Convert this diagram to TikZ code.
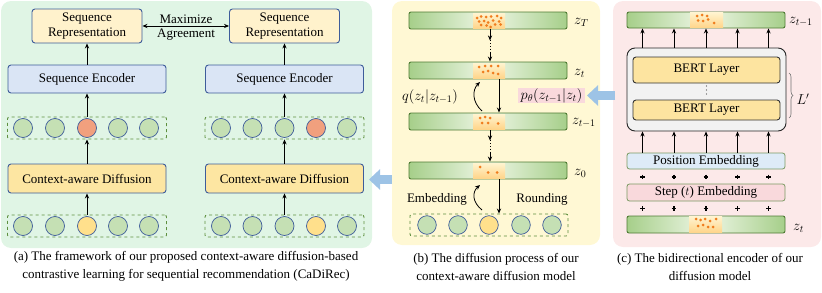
\documentclass[tikz,border=0pt]{standalone}
\usepackage{fontspec}
\setmainfont{Liberation Serif}
\usetikzlibrary{arrows.meta,decorations.pathreplacing,calc}
\definecolor{panA}{HTML}{E0F5E5}
\definecolor{panB}{HTML}{FFF8D4}
\definecolor{panC}{HTML}{FCE9E9}
\definecolor{bord}{HTML}{3E5C9A}
\definecolor{repF}{HTML}{FFF2CC}
\definecolor{encF}{HTML}{DAE5F5}
\definecolor{difF}{HTML}{FDE6A2}
\definecolor{cGreen}{HTML}{C5E0B4}
\definecolor{cOrange}{HTML}{F1A07E}
\definecolor{cYellow}{HTML}{FFE08C}
\definecolor{dashG}{HTML}{5E8F3E}
\definecolor{barB}{HTML}{4F7B34}
\definecolor{barE}{HTML}{A6CF8A}
\definecolor{barM}{HTML}{EEF6E6}
\definecolor{dotO}{HTML}{F07D1E}
\definecolor{midT}{HTML}{FFF4D0}
\definecolor{midB}{HTML}{FFD58A}
\definecolor{bigArr}{HTML}{9DC3E6}
\definecolor{pinkF}{HTML}{F9D9DC}
\definecolor{posF}{HTML}{DEEBF7}
\definecolor{embB}{HTML}{7A9A62}
\definecolor{bertF}{HTML}{FDE4A0}
\definecolor{grayF}{HTML}{F2F2F2}
\newcommand\midsec[4]{\fill[top color=midT,bottom color=midB] (#1,#2) rectangle (#3,#4);}
\newcommand\pluscross[2]{\draw[line width=1.3pt] (#1-2.4,#2) -- (#1+2.4,#2) (#1,#2-2.4) -- (#1,#2+2.4);}
\begin{document}
\begin{tikzpicture}[x=1pt,y=-1pt,
  font=\fontsize{13}{15.5}\selectfont,
  panel/.style={rounded corners=10pt},
  abox/.style={draw=bord, line width=0.9pt, rounded corners=3pt, align=center, inner sep=0pt},
  seqrow/.style={draw=dashG, dashed, line width=0.9pt, rounded corners=2pt, minimum width=159pt, minimum height=22pt, inner sep=0pt},
  item/.style={circle, draw=bord, line width=0.7pt, minimum size=19pt, inner sep=0pt, fill=cGreen},
  arr/.style={-{Stealth[length=5pt,width=4.2pt]}, line width=0.8pt},
  dots/.style={dotted, line width=0.8pt},
  zbar/.style={draw=barB, line width=0.9pt, rounded corners=2pt, left color=barE, right color=barE, middle color=barM, minimum width=158pt, inner sep=0pt},
  embox/.style={draw=embB, line width=0.8pt, rounded corners=2.5pt, minimum width=158pt, inner sep=0pt},
  bert/.style={draw=black!80, line width=0.9pt, rounded corners=3pt, fill=bertF, minimum width=147pt, inner sep=0pt},
  bigarrow/.style={bigArr, line width=9pt, -{Triangle[width=20pt,length=11pt]}},
  mathlab/.style={font=\fontsize{14.5}{15}\selectfont},
  captxt/.style={align=center, font=\fontsize{13}{18}\selectfont}]
\useasboundingbox (0,0) rectangle (822,292);
% panels
\fill[panA, panel] (1,1) rectangle (372,248);
\fill[panB, panel] (392,1) rectangle (600,245);
\fill[panC, panel] (613,1) rectangle (821,247);

% ---------------- panel (a)
\node[abox, fill=repF, minimum width=110pt, minimum height=34pt] (repL) at (87,26) {Sequence\\Representation};
\node[abox, fill=repF, minimum width=110pt, minimum height=34pt] (repR) at (284.5,26) {Sequence\\Representation};
\draw[{Stealth[length=5pt,width=4.2pt]}-{Stealth[length=5pt,width=4.2pt]}, line width=0.8pt] (repL.east) -- (repR.west);
\node[align=center, font=\fontsize{13}{14}\selectfont] (agree) at (186,28) {Maximize\\Agreement};

\node[abox, fill=encF, minimum width=158pt, minimum height=28pt] (encL) at (87,79) {Sequence Encoder};
\node[abox, fill=encF, minimum width=158pt, minimum height=28pt] (encR) at (284.5,79) {Sequence Encoder};

\node[seqrow] (rowL) at (87,128) {};
\node[seqrow] (rowR) at (284.5,128) {};
\foreach \x/\c [count=\i] in {23/cGreen,55/cGreen,87/cOrange,118/cGreen,149/cGreen}
  \node[item, fill=\c] (aL\i) at (\x,128) {};
\foreach \x/\c [count=\i] in {221/cGreen,252.5/cGreen,284.5/cGreen,316/cOrange,347/cGreen}
  \node[item, fill=\c] (aR\i) at (\x,128) {};

\node[abox, fill=difF, minimum width=158pt, minimum height=29pt] (difL) at (87,178.5) {Context-aware Diffusion};
\node[abox, fill=difF, minimum width=158pt, minimum height=29pt] (difR) at (284.5,178.5) {Context-aware Diffusion};

\node[seqrow] (inL) at (87,226) {};
\node[seqrow] (inR) at (284.5,226) {};
\foreach \x/\c [count=\i] in {23/cGreen,55/cGreen,87/cYellow,118/cGreen,149/cGreen}
  \node[item, fill=\c] (bL\i) at (\x,226) {};
\foreach \x/\c [count=\i] in {221/cGreen,252.5/cGreen,284.5/cGreen,316/cYellow,347/cGreen}
  \node[item, fill=\c] (bR\i) at (\x,226) {};

\foreach \s in {L,R}{
  \draw[arr] (enc\s.north) -- (rep\s.south);
  \draw[arr] (row\s.north) -- (enc\s.south);
  \draw[arr] (dif\s.north) -- (row\s.south);
  \draw[arr] (in\s.north) -- (dif\s.south);
}

% ---------------- panel (b)
\node[zbar, minimum height=17pt] (zT) at (488,20.5) {};
\midsec{473}{13}{505}{28}
\node[zbar, minimum height=17pt] (zt) at (488,70.5) {};
\midsec{473}{63}{505}{78}
\node[zbar, minimum height=17pt] (ztm) at (488,121.5) {};
\midsec{473}{114}{505}{129}
\node[zbar, minimum height=17pt] (z0) at (488,170.5) {};
\midsec{473}{163}{505}{178}
\foreach \x/\y in {477/18,481/16.5,486/17,491/16.5,497/16,501/18,479/21.5,484/21,488/22.5,493/20.5,499/21.5,481/25,486.5/25.5,490.5/27,495/24.5,500.5/24.5}
  \fill[dotO] (\x,\y) circle (1.5pt);
\foreach \x/\y in {479/67,485/66,491/66,498/66,483/72,488/71,493/73,498/74}
  \fill[dotO] (\x,\y) circle (1.5pt);
\foreach \x/\y in {480/118,485/117,490/118,482/123,488/123,498/123.5}
  \fill[dotO] (\x,\y) circle (1.5pt);
\foreach \x/\y in {480/167,488/172.5,497/172.5}
  \fill[dotO] (\x,\y) circle (1.5pt);

\node[mathlab, anchor=west, inner sep=0pt] (lT) at (574,22) {$z_T$};
\node[mathlab, anchor=west, inner sep=0pt] (lt) at (574,73) {$z_t$};
\node[mathlab, anchor=west, inner sep=0pt] (ltm) at (572,123) {$z_{t-1}$};
\node[mathlab, anchor=west, inner sep=0pt] (l0) at (574,173) {$z_0$};

\coordinate (cx) at (490,0);
\draw[arr] (cx |- zT.south) -- ++(0,11);
\draw[dots] ($(cx |- zT.south)+(0,11)$) -- ($(cx |- zt.north)+(0,-9)$);
\draw[arr] ($(cx |- zt.north)+(0,-9)$) -- (cx |- zt.north);
\draw[arr] (cx |- ztm.south) -- ++(0,10);
\draw[dots] ($(cx |- ztm.south)+(0,10)$) -- ($(cx |- z0.north)+(0,-9)$);
\draw[arr] ($(cx |- z0.north)+(0,-9)$) -- (cx |- z0.north);

\coordinate (dx) at (499,0);
\draw[arr] (dx |- zt.south) -- (dx |- ztm.north);
\coordinate (qa) at (482,111);
\coordinate (qb) at (480,82);
\draw[arr] (qa) .. controls (472,102) and (472,90) .. (qb);
\node[mathlab] (qlab) at (430,97) {$q(z_t|z_{t-1})$};
\node[mathlab, fill=pinkF, inner sep=0pt, minimum width=67pt, minimum height=15pt] (plab) at (551.5,95.5) {$p_\theta(z_{t-1}|z_t)$};

\node[seqrow, minimum width=158pt] (inB) at (489,225) {};
\foreach \x/\c [count=\i] in {427/cGreen,458/cGreen,489/cYellow,521/cGreen,552/cGreen}
  \node[item, minimum size=18.6pt, fill=\c] (cB\i) at (\x,225) {};
\draw[arr] (dx |- z0.south) -- (dx |- inB.north);
\coordinate (ea) at (482,210);
\coordinate (eb) at (480,185);
\draw[arr] (ea) .. controls (472,202) and (472,192) .. (eb);
\node (emb) at (437,199) {Embedding};
\node (rnd) at (542,199) {Rounding};

% ---------------- panel (c)
\node[zbar, minimum height=16pt] (ctop) at (706,20) {};
\midsec{690}{12.5}{723}{27.5}
\foreach \x/\y in {697/16,702/15,707/16,698/20.5,703/21,708/19.5,714/23}
  \fill[dotO] (\x,\y) circle (1.5pt);
\node[mathlab, anchor=west, inner sep=0pt] (lctop) at (789,22) {$z_{t-1}$};

\node[draw=black!85, line width=0.9pt, rounded corners=8pt, fill=grayF, minimum width=159pt, minimum height=83pt, inner sep=0pt] (big) at (706.5,89.5) {};
\node[bert, minimum height=26pt] (bert1) at (706.5,70) {BERT Layer};
\node[bert, minimum height=20pt] (bert2) at (706.5,110) {BERT Layer};
\foreach \y in {86,90,94} \fill[black!70] (706.5,\y) circle (0.55pt);
\draw[decorate, decoration={brace, amplitude=4pt}, line width=0.6pt, draw=black!55] (789,73) -- (789,118);
\node[mathlab] (Lp) at (803,99) {$L'$};

\node[embox, fill=posF, minimum height=16pt] (pos) at (706,161) {Position Embedding};
\node[embox, fill=pinkF, minimum height=17pt] (stp) at (706,192.5) {Step ($t$) Embedding};
\node[zbar, minimum height=17pt] (cbot) at (706,224.5) {};
\midsec{689}{216.5}{722}{232.5}
\foreach \x/\y in {696/219,700.5/220,705/219,710/221,716/219,698/226,703/225,708/227,713/227}
  \fill[dotO] (\x,\y) circle (1.5pt);
\node[mathlab, anchor=west, inner sep=0pt] (lcbot) at (793,228) {$z_t$};

\foreach \x [count=\i] in {642.5,674,706,737.5,768.5}{
  \coordinate (col\i) at (\x,0);
  \draw[arr] (col\i |- big.north) -- (col\i |- ctop.south);
  \draw[arr] (col\i |- pos.north) -- (col\i |- big.south);
  \pluscross{\x}{177}
  \pluscross{\x}{208.5}
}

% ---------------- big blue arrows
\coordinate (ba1) at (392,179.5);
\coordinate (ba2) at (369,179.5);
\draw[bigarrow] (ba1) -- (ba2);
\coordinate (bb1) at (615,95.5);
\coordinate (bb2) at (587,95.5);
\draw[bigarrow] (bb1) -- (bb2);

% ---------------- captions
\node[captxt] (capA) at (186,266.5) {(a) The framework of our proposed context-aware diffusion-based\\contrastive learning for sequential recommendation (CaDiRec)};
\node[captxt] (capB) at (496,266.5) {(b) The diffusion process of our\\context-aware diffusion model};
\node[captxt] (capC) at (710,266.5) {(c) The bidirectional encoder of our\\diffusion model};
\end{tikzpicture}
\end{document}
